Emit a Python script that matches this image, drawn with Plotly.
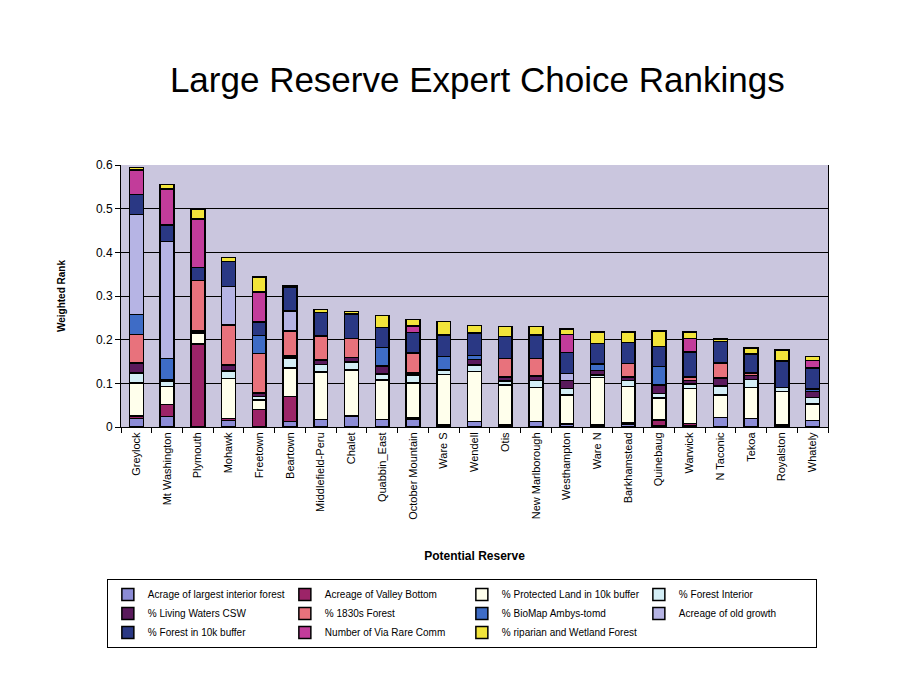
import plotly.graph_objects as go

categories = ["Greylock", "Mt Washington", "Plymouth", "Mohawk", "Freetown", "Beartown",
              "Middlefield-Peru", "Chalet", "Quabbin_East", "October Mountain", "Ware S",
              "Wendell", "Otis", "New Marlborough", "Westhampton", "Ware N", "Barkhamstead",
              "Quinebaug", "Warwick", "N Taconic", "Tekoa", "Royalston", "Whately"]

series_names = ["Acrage of largest interior forest", "Acreage of Valley Bottom",
                "% Protected Land in 10k buffer", "% Forest Interior",
                "% Living Waters CSW", "% 1830s Forest", "% BioMap Ambys-tomd",
                "Acreage of old growth", "% Forest in 10k buffer",
                "Number of Via Rare Comm", "% riparian and Wetland Forest"]

largest_interior = [0.019, 0.024, 0.0, 0.015, 0.0, 0.013, 0.017, 0.025, 0.017, 0.017, 0.003,
                    0.013, 0.003, 0.013, 0.007, 0.003, 0.006, 0.004, 0.004, 0.022, 0.020, 0.004, 0.015]
valley_bottom = [0.006, 0.027, 0.190, 0.004, 0.040, 0.057, 0.0, 0.0, 0.0, 0.004, 0.002,
                 0.0, 0.002, 0.0, 0.0, 0.002, 0.003, 0.012, 0.004, 0.0, 0.0, 0.002, 0.0]
protected_land = [0.076, 0.042, 0.025, 0.092, 0.022, 0.065, 0.109, 0.106, 0.091, 0.080, 0.115,
                  0.114, 0.091, 0.077, 0.066, 0.108, 0.084, 0.050, 0.080, 0.051, 0.070, 0.075, 0.038]
forest_interior = [0.023, 0.012, 0.0, 0.017, 0.008, 0.023, 0.017, 0.018, 0.013, 0.018, 0.011,
                   0.015, 0.009, 0.017, 0.015, 0.006, 0.014, 0.011, 0.011, 0.021, 0.019, 0.009, 0.015]
living_waters = [0.023, 0.004, 0.005, 0.014, 0.008, 0.005, 0.011, 0.010, 0.019, 0.005, 0.0,
                 0.013, 0.010, 0.010, 0.019, 0.010, 0.008, 0.019, 0.008, 0.018, 0.009, 0.0, 0.013]
forest_1830s = [0.065, 0.0, 0.115, 0.092, 0.090, 0.057, 0.054, 0.044, 0.0, 0.046, 0.0,
                0.0, 0.042, 0.040, 0.0, 0.0, 0.030, 0.0, 0.008, 0.035, 0.006, 0.0, 0.0]
biomap = [0.046, 0.048, 0.0, 0.0, 0.042, 0.0, 0.0, 0.0, 0.042, 0.0, 0.030,
          0.009, 0.0, 0.0, 0.0, 0.015, 0.0, 0.042, 0.0, 0.0, 0.0, 0.0, 0.006]
old_growth = [0.229, 0.268, 0.0, 0.088, 0.0, 0.046, 0.0, 0.0, 0.0, 0.0, 0.0,
              0.0, 0.0, 0.0, 0.015, 0.0, 0.0, 0.0, 0.0, 0.0, 0.0, 0.0, 0.0]
forest_10k = [0.046, 0.038, 0.030, 0.057, 0.030, 0.054, 0.054, 0.056, 0.046, 0.046, 0.050,
              0.051, 0.050, 0.054, 0.049, 0.047, 0.049, 0.046, 0.057, 0.049, 0.043, 0.061, 0.048]
via_rare = [0.056, 0.082, 0.111, 0.0, 0.069, 0.0, 0.0, 0.0, 0.0, 0.015, 0.0,
            0.0, 0.0, 0.0, 0.041, 0.0, 0.0, 0.0, 0.031, 0.0, 0.0, 0.0, 0.017]
riparian = [0.005, 0.010, 0.022, 0.009, 0.034, 0.003, 0.007, 0.006, 0.027, 0.015, 0.031,
            0.017, 0.023, 0.019, 0.013, 0.027, 0.023, 0.036, 0.014, 0.005, 0.014, 0.025, 0.009]

series_values = [largest_interior, valley_bottom, protected_land, forest_interior,
                 living_waters, forest_1830s, biomap, old_growth, forest_10k,
                 via_rare, riparian]

colors = ["#8C8CD6", "#9C2468", "#FFFFEC", "#D4EEF6", "#5A1A5C", "#E8727C",
          "#3E6CC6", "#B6B4E4", "#2A3884", "#C23C9A", "#F2E43A"]

fig = go.Figure()
for name, vals, col in zip(series_names, series_values, colors):
    fig.add_trace(go.Bar(x=categories, y=vals, name=name,
                         marker=dict(color=col, line=dict(color="black", width=1.5))))

font_family = "Liberation Sans, Arial, sans-serif"
fig.update_layout(
    barmode="stack",
    bargap=0.55,
    width=899, height=679,
    paper_bgcolor="#FFFFFF",
    plot_bgcolor="#CAC6DE",
    margin=dict(l=113, r=79, t=157, b=260, autoexpand=False),
    font=dict(family=font_family, color="black"),
    title=dict(text="Large Reserve Expert Choice Rankings", x=0.522, xanchor="center",
               y=0.895, yanchor="middle", font=dict(size=35, family=font_family)),
    showlegend=True,
    legend=dict(orientation="h", x=-0.02, xanchor="left", y=-0.58, yanchor="top",
                traceorder="normal", entrywidth=132, entrywidthmode="pixels",
                itemwidth=30,
                bgcolor="white", bordercolor="black", borderwidth=1,
                font=dict(size=10, family=font_family),
                tracegroupgap=0),
)
fig.update_xaxes(
    tickangle=-90, tickfont=dict(size=11, family="Liberation Sans, Arial", color="black"),
    showline=True, linecolor="black", linewidth=1, mirror=False,
    ticks="outside", tickson="boundaries", ticklen=5, tickcolor="black",
    title=dict(text="<b>Potential Reserve</b>", font=dict(size=12), standoff=32),
    automargin=False,
)
fig.update_yaxes(
    range=[0, 0.6], tickvals=[0, 0.1, 0.2, 0.3, 0.4, 0.5, 0.6],
    ticktext=["0", "0.1", "0.2", "0.3", "0.4", "0.5", "0.6"],
    tickfont=dict(size=12), showgrid=True, gridcolor="black", gridwidth=1,
    showline=True, linecolor="black", linewidth=1, mirror=True,
    ticks="outside", ticklen=5, tickcolor="black", zeroline=False,
    title=dict(text="<b>Weighted Rank</b>", font=dict(size=10), standoff=28),
    automargin=False,
)
fig.write_html("out.html")
